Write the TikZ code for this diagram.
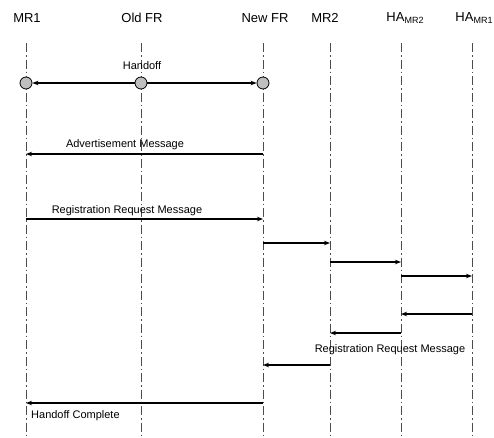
\documentclass[tikz,border=0pt]{standalone}
\usepackage{fontspec}
\setmainfont{Liberation Sans}
\usetikzlibrary{arrows.meta}
\begin{document}
\begin{tikzpicture}[x=1pt,y=-1pt,
  head/.style={font=\fontsize{13}{15}\selectfont, inner sep=0pt, anchor=center},
  lbl/.style={font=\fontsize{11}{13}\selectfont, inner sep=0pt},
  life/.style={draw=black!70, line width=0.6pt, dash pattern=on 9pt off 3pt on 1.5pt off 3pt},
  msg/.style={draw=black, line width=1.3pt, -{Stealth[length=6pt,width=4.5pt]}},
  event/.style={circle, draw=black, line width=0.8pt, fill=black!25, minimum size=12pt, inner sep=0pt}]
\useasboundingbox (0,0) rectangle (494,437);

% participants
\node[head] (hmr1) at (27,18) {MR1};
\node[head] (hold) at (142,18) {Old FR};
\node[head] (hnew) at (265,18) {New FR};
\node[head] (hmr2) at (325,18) {MR2};
\node[head] (hha2) at (405,18) {HA\raisebox{-0.25ex}{\fontsize{9}{10}\selectfont MR2}};
\node[head] (hha1) at (474,18) {HA\raisebox{-0.25ex}{\fontsize{9}{10}\selectfont MR1}};

% lifelines
\foreach \n/\x in {mr1/26, old/141, new/263, mr2/330, ha2/401, ha1/472}{
  \coordinate (\n-top) at (\x,43);
  \coordinate (\n-bot) at (\x,437);
  \draw[life] (\n-top) -- (\n-bot);
}

% handoff
\node[event] (c1) at (26,83) {};
\node[event] (c3) at (263,83) {};
\draw[msg, {Stealth[length=6pt,width=4.5pt]}-{Stealth[length=6pt,width=4.5pt]}] (c1) -- (c3);
\node[event] (c2) at (141,83) {};
\node[lbl] (thand) at (142,66) {Handoff};

% end points of the messages
\foreach \n/\x in {mr1/26, new/263, mr2/330, ha2/401, ha1/472}{
  \foreach \y in {154,219,243,262,276,314,333,365,403}{
    \coordinate (\n-\y) at (\x,\y);
  }
}

\draw[msg] (new-154) -- (mr1-154);
\node[lbl] (tadv) at (125,145) {Advertisement Message};

\draw[msg] (mr1-219) -- (new-219);
\node[lbl] (treg1) at (127,211) {Registration Request Message};

\draw[msg] (new-243) -- (mr2-243);
\draw[msg] (mr2-262) -- (ha2-262);
\draw[msg] (ha2-276) -- (ha1-276);
\draw[msg] (ha1-314) -- (ha2-314);
\draw[msg] (ha2-333) -- (mr2-333);
\node[lbl] (treg2) at (390,350) {Registration Request Message};
\draw[msg] (mr2-365) -- (new-365);

\draw[msg] (new-403) -- (mr1-403);
\node[lbl, anchor=west] (tdone) at (31,416) {Handoff Complete};
\end{tikzpicture}
\end{document}
